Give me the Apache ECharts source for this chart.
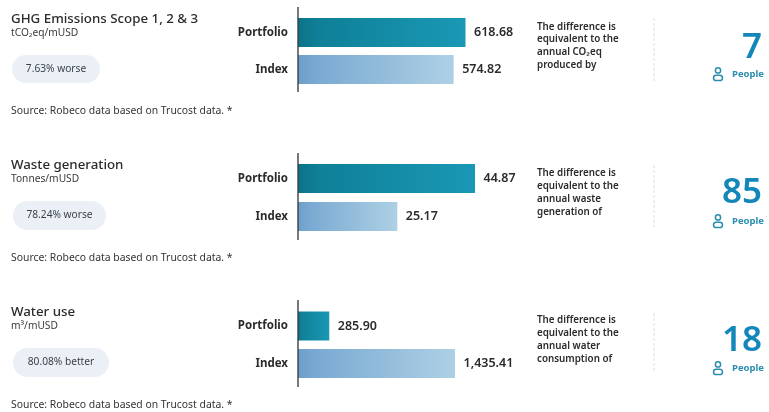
<!DOCTYPE html>
<html><head><meta charset="utf-8">
<style>html,body{margin:0;padding:0;background:#fff}#c{width:769px;height:412px}</style>
<script src="https://cdn.jsdelivr.net/npm/echarts@6/dist/echarts.min.js"></script>
</head><body><div id="c"></div>
<script>
const categories = ['Portfolio', 'Index'];
const ghgValues = [618.68, 574.82];
const wasteValues = [44.87, 25.17];
const waterValues = [285.90, 1435.41];
const titles = ['GHG Emissions Scope 1, 2 & 3', 'Waste generation', 'Water use'];
const units = ['tCO\u2082eq/mUSD', 'Tonnes/mUSD', 'm\u00b3/mUSD'];
const badges = ['7.63% worse', '78.24% worse', '80.08% better'];
const sourceText = 'Source: Robeco data based on Trucost data. *';
const descriptions = [
  ['The difference is', 'equivalent to the', 'annual CO\u2082eq', 'produced by'],
  ['The difference is', 'equivalent to the', 'annual waste', 'generation of'],
  ['The difference is', 'equivalent to the', 'annual water', 'consumption of']
];
const peopleCounts = ['7', '85', '18'];
const peopleLabel = 'People';

const FONT = '"Noto Sans", sans-serif';
const layout = [
  {top:14, h:74, gw:216.6, max:800, ax:[7,92], title:19, unit:33, pill:[12,55,88,28], source:111, desc:[27,39.7,52.6,65.5], dash:[18,81], num:48, ppl:74},
  {top:159.5, h:76, gw:236.7, max:60, ax:[153,240], title:165, unit:179, pill:[13,201,93,29], source:258, desc:[173,186,199,212], dash:[165,227], num:193, ppl:221},
  {top:307.25, h:75, gw:218.8, max:2000, ax:[300,387], title:312, unit:326, pill:[13,348,96,29], source:405, desc:[320,333,346,359], dash:[313,373], num:341, ppl:368}
];
const seriesValues = [ghgValues, wasteValues, waterValues];
const grad = (a, b, c) => new echarts.graphic.LinearGradient(0, 0, 1, 0, [{offset:0,color:a},{offset:0.12,color:b},{offset:1,color:c}]);
const fmt = v => v.toLocaleString('en-US', {minimumFractionDigits:2, maximumFractionDigits:2});

const txt = (x, y, text, fontSize, fill, fontWeight, align) => ({
  type:'text', x, y, silent:true,
  style:{text, fontSize, fill, fontWeight:fontWeight||400, fontFamily:FONT, align:align||'left', verticalAlign:'middle'}
});

const graphic = [];
layout.forEach((L, i) => {
  graphic.push({type:'line', shape:{x1:298,y1:L.ax[0],x2:298,y2:L.ax[1]}, style:{stroke:'#3a3f44',lineWidth:1.4}, z:10});
  graphic.push(txt(11, L.title, titles[i], 13.3, '#2b2b2b', 500));
  graphic.push(txt(11, L.unit, units[i], 10.2, '#3a3a3a', 400));
  const p = L.pill;
  graphic.push({type:'rect', shape:{x:p[0],y:p[1],width:p[2],height:p[3],r:p[3]/2}, style:{fill:'#ebf0f7'}});
  graphic.push(txt(p[0]+p[2]/2, p[1]+p[3]/2, badges[i], 10.2, '#3a3f48', 400, 'center'));
  graphic.push(txt(11, L.source, sourceText, 10.4, '#333', 400));
  descriptions[i].forEach((line, k) => graphic.push(txt(537, L.desc[k], line, 9.8, '#2b2b2b', 600)));
  graphic.push({type:'line', shape:{x1:654,y1:L.dash[0],x2:654,y2:L.dash[1]}, style:{stroke:'#dcdcdc',lineWidth:1,lineDash:[3,2]}});
  graphic.push(txt(762, L.num, peopleCounts[i], 35, '#1386ba', 600, 'right'));
  graphic.push(txt(732, L.ppl, peopleLabel, 9.5, '#2a8db0', 700));
  graphic.push({type:'circle', shape:{cx:718,cy:L.ppl-3.6,r:2.6}, style:{fill:'none',stroke:'#2a8db0',lineWidth:1.5}});
  graphic.push({type:'rect', shape:{x:713.5,y:L.ppl+1.2,width:9,height:5.4,r:2.7}, style:{fill:'none',stroke:'#2a8db0',lineWidth:1.5}});
});

const option = {
  animation:false,
  backgroundColor:'#fff',
  grid: layout.map(L => ({left:298, top:L.top, width:L.gw, height:L.h})),
  xAxis: layout.map((L, i) => ({gridIndex:i, type:'value', min:0, max:L.max, show:false})),
  yAxis: layout.map((L, i) => ({
    gridIndex:i, type:'category', inverse:true, data:categories,
    axisLine:{show:false}, axisTick:{show:false},
    axisLabel:{fontFamily:FONT, fontSize:11.5, fontWeight:700, color:'#2b2b2b', margin:10}
  })),
  series: seriesValues.map((vals, i) => ({
    type:'bar', xAxisIndex:i, yAxisIndex:i, barWidth:29,
    data: vals.map((v, k) => ({
      value:v,
      itemStyle:{color: k === 0 ? grad('#0b7388','#0f8098','#1a98b5') : grad('#6a9fca','#7aaad2','#aed0e5')}
    })),
    label:{show:true, position:'right', distance:8.5, fontFamily:FONT, fontSize:12.5, fontWeight:600, color:'#2b2b2b',
      formatter:p => fmt(p.value)}
  })),
  graphic
};
echarts.init(document.getElementById('c'), null, {renderer:'canvas'}).setOption(option);
</script></body></html>
